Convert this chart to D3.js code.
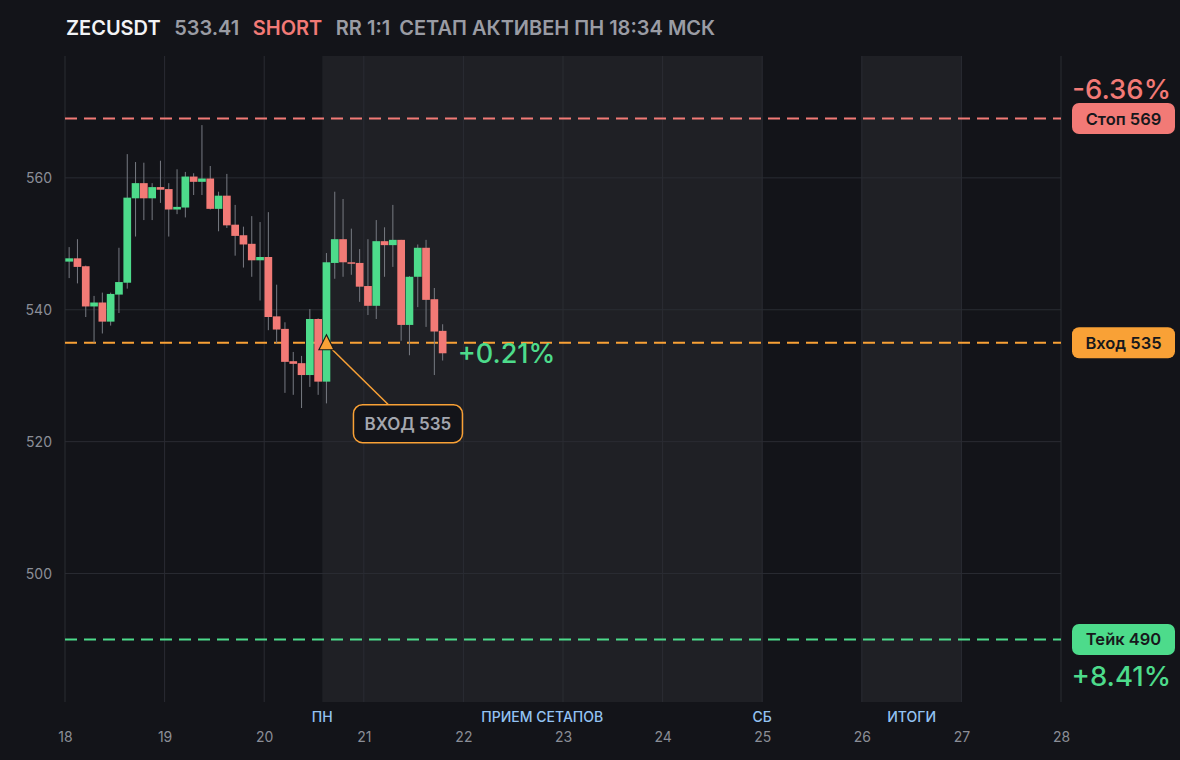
<!DOCTYPE html>
<html>
<head>
<meta charset="utf-8">
<script src="https://cdn.jsdelivr.net/npm/d3@7"></script>
<style>
  html, body { margin: 0; padding: 0; background: #131419; }
  svg { display: block; font-family: Inter, "Noto Sans", sans-serif; }
</style>
</head>
<body>
<div id="chart"></div>
<script>
// candles, 2h each, starting at day 18 00:00
const opens  = [547.3, 547.8, 546.6, 540.5, 541.1, 538.2, 542.3, 544.1, 556.9, 559.2, 556.9, 558.6, 558.3, 555.2, 555.5, 560.2,
                559.4, 559.9, 555.3, 557.3, 552.9, 551.3, 550.0, 547.5, 548.0, 539.0, 537.1, 532.2, 531.9, 530.1, 538.6, 529.1,
                547.1, 550.7, 547.2, 547.1, 543.6, 540.6, 550.4, 549.8, 550.6, 537.7, 545.0, 549.4, 541.6, 536.8];
const highs  = [549.5, 550.7, 546.7, 542.1, 542.6, 542.6, 549.4, 563.6, 562.4, 562.3, 559.2, 562.6, 559.2, 561.3, 560.9, 560.7,
                568.0, 561.8, 557.9, 560.6, 555.9, 552.6, 554.2, 553.3, 554.8, 543.8, 538.1, 533.6, 533.0, 540.1, 538.7, 548.6,
                557.9, 556.8, 552.3, 549.2, 550.7, 553.6, 552.5, 555.9, 550.6, 545.1, 549.9, 550.6, 543.3, 537.8];
const lows   = [544.8, 544.0, 538.9, 535.0, 536.4, 537.6, 539.5, 543.2, 551.1, 553.6, 553.6, 556.2, 551.1, 554.5, 554.0, 557.4,
                557.4, 555.2, 551.9, 552.4, 548.2, 546.4, 545.0, 541.4, 536.9, 534.9, 527.4, 527.1, 525.1, 528.3, 527.1, 525.8,
                544.7, 545.0, 545.3, 541.2, 539.2, 538.6, 545.0, 546.5, 535.3, 533.1, 540.4, 537.4, 530.1, 532.3];
const closes = [547.8, 546.5, 540.5, 541.1, 538.2, 542.4, 544.2, 557.0, 559.2, 556.9, 558.6, 558.2, 555.2, 555.6, 560.2, 559.4,
                559.9, 555.3, 557.3, 552.8, 551.2, 549.9, 547.5, 548.0, 538.9, 537.0, 532.1, 531.8, 530.1, 538.6, 529.1, 547.2,
                550.7, 547.2, 547.0, 543.5, 540.6, 550.4, 549.8, 550.6, 537.7, 545.0, 549.4, 541.5, 536.7, 533.4];
const startDay = 18;
const candleDays = 1 / 12;

// trade levels
const symbol = "ZECUSDT";
const lastPrice = 533.41;
const side = "SHORT";
const headerRR = "RR 1:1";
const headerStatus = "СЕТАП АКТИВЕН ПН 18:34 МСК";
const entryPrice = 535;
const stopPrice = 569;
const takePrice = 490;
const entryCandle = 31;
const stopPct = "-6.36%";
const takePct = "+8.41%";
const livePct = "+0.21%";

// axes and session bands
const dayTicks = [18, 19, 20, 21, 22, 23, 24, 25, 26, 27, 28];
const priceTicks = [500, 520, 540, 560];
const bandStarts = [18 + 31 / 12, 26];
const bandEnds = [25, 27];
const eventDays = [18 + 31 / 12, (18 + 31 / 12 + 25) / 2, 25, 26.5];
const eventLabels = ["ПН", "ПРИЕМ СЕТАПОВ", "СБ", "ИТОГИ"];

const width = 1180, height = 760;
const plotL = 65, plotR = 1061, plotT = 56, plotB = 702;

const GREEN = "#4ddb8b", RED = "#f27a76", ORANGE = "#f9a136";
const BG = "#131419", BAND = "#1f2025", GRID = "#2a2c33";

const candles = opens.map((o, i) => ({
  t: startDay + i * candleDays, o: o, h: highs[i], l: lows[i], c: closes[i]
}));

const pad = (stopPrice - takePrice) * 0.12;
const x = d3.scaleLinear().domain([18, 28]).range([plotL, plotR]);
const y = d3.scaleLinear().domain([takePrice - pad, stopPrice + pad]).range([plotB, plotT]);
const step = x(startDay + candleDays) - x(startDay);

const svg = d3.select("#chart").append("svg")
  .attr("width", width)
  .attr("height", height);

svg.append("rect").attr("width", width).attr("height", height).attr("fill", BG);

// session bands
svg.append("g").selectAll("rect")
  .data(bandStarts)
  .join("rect")
    .attr("x", d => x(d))
    .attr("y", plotT)
    .attr("width", (d, i) => x(bandEnds[i]) - x(d))
    .attr("height", plotB - plotT)
    .attr("fill", BAND);

// grid
svg.append("g").selectAll("line")
  .data(dayTicks)
  .join("line")
    .attr("x1", d => x(d)).attr("x2", d => x(d))
    .attr("y1", plotT).attr("y2", plotB)
    .attr("stroke", GRID).attr("stroke-width", 1);

svg.append("g").selectAll("line")
  .data(priceTicks)
  .join("line")
    .attr("x1", plotL).attr("x2", plotR)
    .attr("y1", d => y(d)).attr("y2", d => y(d))
    .attr("stroke", GRID).attr("stroke-width", 1);

// axes text
const yAxis = svg.append("g")
  .attr("transform", `translate(${plotL - 13},0)`)
  .call(d3.axisLeft(y).tickValues(priceTicks).tickSize(0).tickPadding(0));
yAxis.select(".domain").remove();
yAxis.selectAll("text")
  .attr("fill", "#8b8e97").attr("font-size", 14).attr("font-family", "Inter");

const xAxis = svg.append("g")
  .attr("transform", `translate(0,${plotB + 40})`)
  .call(d3.axisBottom(x).tickValues(dayTicks).tickFormat(d => d).tickSize(0).tickPadding(0));
xAxis.select(".domain").remove();
xAxis.selectAll("text")
  .attr("y", 0).attr("dy", null)
  .attr("fill", "#8b8e97").attr("font-size", 14).attr("font-family", "Inter");

svg.append("g").selectAll("text")
  .data(eventLabels)
  .join("text")
    .attr("x", (d, i) => x(eventDays[i]))
    .attr("y", plotB + 20)
    .attr("text-anchor", "middle")
    .attr("fill", "#93c3f3")
    .attr("font-size", 14)
    .attr("font-weight", 500)
    .text(d => d);

// level lines
const levels = [
  { p: stopPrice, color: RED, label: "Стоп " + stopPrice },
  { p: entryPrice, color: ORANGE, label: "Вход " + entryPrice },
  { p: takePrice, color: GREEN, label: "Тейк " + takePrice }
];

svg.append("g").selectAll("line")
  .data(levels)
  .join("line")
    .attr("x1", plotL).attr("x2", plotR)
    .attr("y1", d => y(d.p)).attr("y2", d => y(d.p))
    .attr("stroke", d => d.color)
    .attr("stroke-width", 2)
    .attr("stroke-dasharray", "12 7");

// candles
const candle = svg.append("g").selectAll("g")
  .data(candles)
  .join("g");

candle.append("line")
  .attr("x1", d => x(d.t) + step / 2).attr("x2", d => x(d.t) + step / 2)
  .attr("y1", d => y(d.h)).attr("y2", d => y(d.l))
  .attr("stroke", "#777a82").attr("stroke-width", 1);

candle.append("rect")
  .attr("x", d => x(d.t) + 0.3)
  .attr("width", step - 0.6)
  .attr("y", d => y(Math.max(d.o, d.c)))
  .attr("height", d => Math.max(1.5, Math.abs(y(d.o) - y(d.c))))
  .attr("fill", d => d.c >= d.o ? GREEN : RED);

// entry marker and callout
const ex = x(candles[entryCandle].t) + step / 2;
const ey = y(entryPrice);
const boxX = ex + 27, boxY = ey + 62, boxW = 109, boxH = 38;

svg.append("line")
  .attr("x1", ex + 6).attr("y1", ey + 7)
  .attr("x2", boxX + 35).attr("y2", boxY)
  .attr("stroke", ORANGE).attr("stroke-width", 1.5);

svg.append("path")
  .attr("d", `M${ex},${ey - 8}L${ex + 7.5},${ey + 7}L${ex - 7.5},${ey + 7}Z`)
  .attr("fill", ORANGE)
  .attr("stroke", "#1a1a1a")
  .attr("stroke-width", 1.2);

svg.append("rect")
  .attr("x", boxX).attr("y", boxY)
  .attr("width", boxW).attr("height", boxH)
  .attr("rx", 9)
  .attr("fill", BG)
  .attr("stroke", ORANGE).attr("stroke-width", 1.5);

svg.append("text")
  .attr("x", boxX + boxW / 2).attr("y", boxY + boxH / 2)
  .attr("text-anchor", "middle")
  .attr("dominant-baseline", "central")
  .attr("fill", "#a4a7af")
  .attr("font-size", 17)
  .attr("font-weight", 600)
  .text("ВХОД " + entryPrice);

// live pnl next to last candle
const last = candles[candles.length - 1];
svg.append("text")
  .attr("x", x(last.t) + step + 11)
  .attr("y", y(lastPrice))
  .attr("dominant-baseline", "central")
  .attr("fill", GREEN)
  .attr("font-size", 27)
  .attr("font-weight", 500)
  .text(livePct);

// right side pills
const pill = svg.append("g").selectAll("g")
  .data(levels)
  .join("g")
    .attr("transform", d => `translate(1072,${y(d.p)})`);

pill.append("rect")
  .attr("x", 0).attr("y", -15.5)
  .attr("width", 103).attr("height", 31)
  .attr("rx", 7)
  .attr("fill", d => d.color);

pill.append("text")
  .attr("x", 51.5).attr("y", 0)
  .attr("text-anchor", "middle")
  .attr("dominant-baseline", "central")
  .attr("fill", "#17181c")
  .attr("font-size", 16.5)
  .attr("font-weight", 600)
  .text(d => d.label);

svg.append("text")
  .attr("x", 1171).attr("y", y(stopPrice) - 30)
  .attr("text-anchor", "end")
  .attr("dominant-baseline", "central")
  .attr("fill", RED)
  .attr("font-size", 27.5)
  .attr("font-weight", 500)
  .text(stopPct);

svg.append("text")
  .attr("x", 1171).attr("y", y(takePrice) + 37)
  .attr("text-anchor", "end")
  .attr("dominant-baseline", "central")
  .attr("fill", GREEN)
  .attr("font-size", 27.5)
  .attr("font-weight", 500)
  .text(takePct);

// header
const header = [
  { s: symbol, color: "#f2f3f5" },
  { s: lastPrice.toFixed(2), color: "#9a9ca4" },
  { s: side, color: RED },
  { s: headerRR, color: "#9a9ca4" },
  { s: headerStatus, color: "#9a9ca4" }
];
let hx = 66;
header.forEach((h, i) => {
  const t = svg.append("text")
    .attr("x", hx).attr("y", 35)
    .attr("fill", h.color)
    .attr("font-size", 20)
    .attr("font-weight", 600)
    .text(h.s);
  hx += t.node().getComputedTextLength() + (i === 3 ? 9 : 13.5);
});
</script>
</body>
</html>
